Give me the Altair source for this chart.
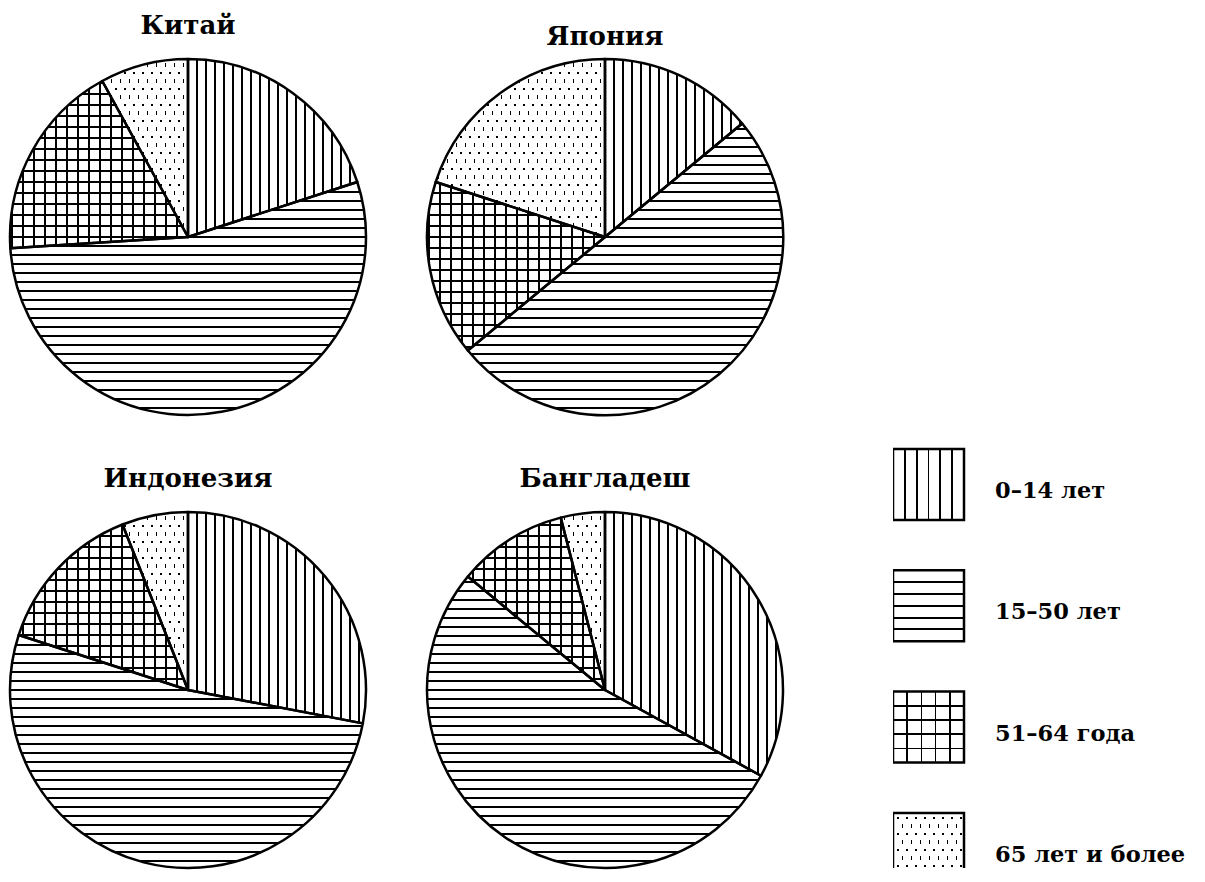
import math
import altair as alt
import pandas as pd

# ---------------- data ----------------
countries = ["Китай", "Япония", "Индонезия", "Бангладеш"]
groups = ["0–14 лет", "15–50 лет", "51–64 года", "65 лет и более"]
china = [20, 54, 18, 8]
japan = [14, 50, 16, 20]
indonesia = [28, 52, 14, 6]
bangladesh = [33, 53, 10, 4]
shares = [china, japan, indonesia, bangladesh]

rows = []
for ci, c in enumerate(countries):
    for gi, g in enumerate(groups):
        rows.append({"country": c, "group": g, "gi": gi, "value": shares[ci][gi]})
df = pd.DataFrame(rows)

# ---------------- styling / layout ----------------
R = 178
W, H = 360, 358
FONT = "DejaVu Serif"
WHITE = "#ffffff"
BLACK = "#000000"
CLEAR = "rgba(255,255,255,0)"

# staggered dot lattice: basis (9, 0) and (4.5, 8)
_d = math.hypot(4.5, 8)
N_A = (8 / _d, -4.5 / _d)
N_B = (8 / _d, 4.5 / _d)
DOT_PERIOD = 9 * 8 / _d
DOT_ORIGIN = (4.5, 4.0)


def stripe_stops(lo, hi, period, thick, fg, bg, phase=0.0):
    span = hi - lo
    stops = [{"offset": 0, "color": bg}]
    k0 = math.floor((lo - phase - thick) / period)
    k1 = math.ceil((hi - phase + thick) / period)
    for k in range(k0, k1 + 1):
        c = phase + k * period
        a = max(0.0, min(1.0, (c - thick / 2 - lo) / span))
        b = max(0.0, min(1.0, (c + thick / 2 - lo) / span))
        if b - a <= 0:
            continue
        a, b = round(a, 5), round(b, 5)
        stops += [
            {"offset": a, "color": bg},
            {"offset": a, "color": fg},
            {"offset": b, "color": fg},
            {"offset": b, "color": bg},
        ]
    stops.append({"offset": 1, "color": bg})
    return stops


def oriented(bb, n, period, thick, fg, bg, phase=0.0):
    """Linear-gradient stripes whose lines are perpendicular to the unit
    vector n (in the mark's own user space), expressed in bounding-box units."""
    x0, x1, y0, y1 = bb
    w, h = x1 - x0, y1 - y0
    nx, ny = n
    corners = [(x0, y0), (x1, y0), (x0, y1), (x1, y1)]
    svals = [nx * x + ny * y for x, y in corners]
    smin, smax = min(svals), max(svals)
    cx, cy = corners[svals.index(smin)]
    p1 = ((cx - x0) / w, (cy - y0) / h)
    g = (nx * w, ny * h)
    g2 = g[0] ** 2 + g[1] ** 2
    dx, dy = g[0] * (smax - smin) / g2, g[1] * (smax - smin) / g2
    return {
        "gradient": "linear",
        "x1": round(p1[0], 6),
        "y1": round(p1[1], 6),
        "x2": round(p1[0] + dx, 6),
        "y2": round(p1[1] + dy, 6),
        "stops": stripe_stops(smin, smax, period, thick, fg, bg, phase),
    }


def dots(bb, origin):
    pa = N_A[0] * origin[0] + N_A[1] * origin[1]
    pb = N_B[0] * origin[0] + N_B[1] * origin[1]
    return [
        oriented(bb, N_A, DOT_PERIOD, 1.7, BLACK, WHITE, pa),
        oriented(bb, N_B, DOT_PERIOD, 1.7, CLEAR, WHITE, pb),
    ]


def pattern_fills(gi, bb):
    if gi == 0:  # vertical lines
        return [oriented(bb, (1, 0), 9, 2.0, BLACK, WHITE)]
    if gi == 1:  # horizontal lines
        return [oriented(bb, (0, 1), 9, 2.0, BLACK, WHITE)]
    if gi == 2:  # grid
        return [
            oriented(bb, (1, 0), 11, 1.5, BLACK, WHITE),
            oriented(bb, (0, 1), 11, 1.5, BLACK, CLEAR),
        ]
    return dots(bb, DOT_ORIGIN)


def legend_fills(gi, s):
    bb = (0, s, 0, s)
    if gi == 0:
        return [oriented(bb, (1, 0), s / 6, 2.0, BLACK, WHITE)]
    if gi == 1:
        return [oriented(bb, (0, 1), s / 6, 2.0, BLACK, WHITE)]
    if gi == 2:
        return [
            oriented(bb, (1, 0), s / 5, 1.6, BLACK, WHITE),
            oriented(bb, (0, 1), s / 5, 1.6, BLACK, CLEAR),
        ]
    return dots(bb, (5.0, 5.0))


def arc_bbox(a1, a2, r):
    def pt(a):
        t = math.radians(a)
        return (r * math.sin(t), -r * math.cos(t))

    pts = [(0.0, 0.0), pt(a1), pt(a2)]
    for c in (0, 90, 180, 270, 360):
        if a1 < c < a2:
            pts.append(pt(c))
    xs = [p[0] for p in pts]
    ys = [p[1] for p in pts]
    return min(xs), max(xs), min(ys), max(ys)


theta_enc = alt.Theta(
    "start:Q",
    stack=False,
    scale=alt.Scale(domain=[0, 100], range=[0, 2 * math.pi]),
)


def pie(ci, title_offset):
    name = countries[ci]
    vals = shares[ci]
    base = (
        alt.Chart(df)
        .transform_filter(alt.datum.country == name)
        .transform_window(end="sum(value)", sort=[alt.SortField("gi")])
        .transform_calculate(start="datum.end - datum.value")
    )
    layers = []
    cum = 0.0
    total = float(sum(vals))
    for gi in range(len(groups)):
        a1 = cum / total * 360
        cum += vals[gi]
        a2 = cum / total * 360
        bb = arc_bbox(a1, a2, R)
        for f in pattern_fills(gi, bb):
            layers.append(
                base.transform_filter(alt.datum.gi == gi)
                .mark_arc(radius=R, fill=f, strokeWidth=0)
                .encode(theta=theta_enc, theta2="end:Q")
            )
    layers.append(
        base.mark_arc(
            radius=R, fillOpacity=0, stroke=BLACK, strokeWidth=2.5, strokeJoin="round"
        ).encode(theta=theta_enc, theta2="end:Q")
    )
    return alt.layer(*layers).properties(
        width=W,
        height=H,
        title=alt.TitleParams(
            text=name,
            font=FONT,
            fontSize=26,
            fontWeight="bold",
            color=BLACK,
            anchor="middle",
            offset=title_offset,
        ),
    )


# ---------------- legend ----------------
leg_df = pd.DataFrame({"label": groups, "slot": list(range(len(groups)))})
BOX = 71
STEP = 121.3
TOP_OFF = 391
LH = 810
LW = 304
yscale = alt.Scale(
    domain=[-TOP_OFF / STEP, (LH - TOP_OFF) / STEP], reverse=True, nice=False, zero=False
)
leg_base = alt.Chart(leg_df).transform_calculate(slot_end=f"datum.slot + {BOX / STEP}")
yenc = alt.Y("slot:Q", scale=yscale, axis=None)
leg_layers = []
for gi in range(len(groups)):
    for f in legend_fills(gi, BOX):
        leg_layers.append(
            leg_base.transform_filter(alt.datum.slot == gi)
            .mark_rect(fill=f, strokeWidth=0, clip=True)
            .encode(x=alt.value(0), x2=alt.value(BOX), y=yenc, y2="slot_end:Q")
        )
leg_layers.append(
    leg_base.mark_rect(fillOpacity=0, stroke=BLACK, strokeWidth=2.5, clip=True).encode(
        x=alt.value(0), x2=alt.value(BOX), y=yenc, y2="slot_end:Q"
    )
)
leg_layers.append(
    leg_base.mark_text(
        align="left",
        baseline="alphabetic",
        dy=49,
        font=FONT,
        fontSize=22.5,
        fontWeight="bold",
        color=BLACK,
    ).encode(x=alt.value(102), y=yenc, text="label:N")
)
legend = alt.layer(*leg_layers).properties(width=LW, height=LH)

row1 = alt.hconcat(pie(0, 19), pie(1, 8), spacing=57)
row2 = alt.hconcat(pie(2, 19), pie(3, 19), spacing=57)
grid = alt.vconcat(row1, row2, spacing=48)

chart = (
    alt.hconcat(grid, legend, spacing=108)
    .properties(padding={"top": 4, "left": 0, "right": 0, "bottom": 0}, background="white")
    .configure_view(strokeWidth=0)
)

chart.save("out.html", embed_options={"renderer": "svg", "actions": False})
